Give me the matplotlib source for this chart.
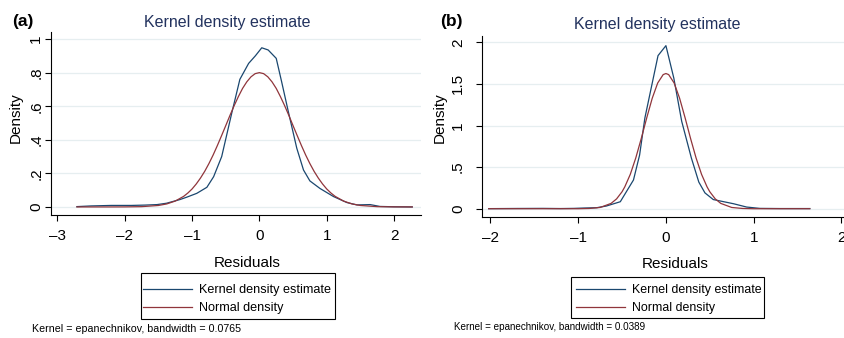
import matplotlib
matplotlib.use("Agg")
import matplotlib.pyplot as plt
from matplotlib.lines import Line2D
from matplotlib.patches import Rectangle

plt.rcParams['font.family'] = ['Liberation Sans', 'DejaVu Sans']

# panel (a) values
a_kde_x = [-2.71, -2.5, -2.2, -1.9, -1.7, -1.52, -1.38, -1.18, -1.08, -0.93, -0.78,
           -0.68, -0.56, -0.41, -0.29, -0.16, -0.06, 0.035, 0.13, 0.25, 0.33, 0.43,
           0.555, 0.655, 0.75, 0.90, 1.10, 1.30, 1.45, 1.55, 1.645, 1.79, 2.0, 2.27]
a_kde_y = [0.002, 0.006, 0.009, 0.009, 0.011, 0.014, 0.022, 0.044, 0.058, 0.081, 0.117,
           0.18, 0.30, 0.56, 0.76, 0.855, 0.90, 0.948, 0.935, 0.885, 0.746, 0.567,
           0.35, 0.22, 0.155, 0.11, 0.062, 0.026, 0.012, 0.013, 0.014, 0.003, 0.001, 0.0]
a_norm_x = [-2.71, -2.25, -2.0, -1.75, -1.5, -1.375, -1.25, -1.125, -1.0625, -1.0,
            -0.9375, -0.875, -0.8125, -0.75, -0.6875, -0.625, -0.5625, -0.5, -0.4375,
            -0.375, -0.3125, -0.25, -0.1875, -0.125, -0.0625, 0.0, 0.0625, 0.125,
            0.1875, 0.25, 0.3125, 0.375, 0.4375, 0.5, 0.5625, 0.625, 0.6875, 0.75,
            0.8125, 0.875, 0.9375, 1.0, 1.0625, 1.125, 1.25, 1.375, 1.5, 1.75, 2.0, 2.27]
a_norm_y = [0.0, 0.0, 0.0003, 0.0017, 0.0087, 0.018, 0.035, 0.063, 0.083, 0.107,
            0.137, 0.172, 0.212, 0.258, 0.309, 0.365, 0.424, 0.484, 0.545,
            0.603, 0.657, 0.706, 0.745, 0.775, 0.794, 0.80, 0.794, 0.775,
            0.745, 0.706, 0.657, 0.603, 0.545, 0.484, 0.424, 0.365, 0.309, 0.258,
            0.212, 0.172, 0.137, 0.107, 0.083, 0.063, 0.035, 0.018, 0.0087, 0.0017, 0.0003, 0.0]

# panel (b)
b_kde_x = [-2.02, -1.7, -1.4, -1.2, -1.05, -0.94, -0.79, -0.68, -0.52, -0.37, -0.30,
           -0.24, -0.18, -0.09, 0.0, 0.09, 0.18, 0.29, 0.375, 0.445, 0.54, 0.77, 0.92,
           1.07, 1.3, 1.64]
b_kde_y = [0.001, 0.003, 0.004, 0.002, 0.004, 0.008, 0.012, 0.032, 0.084, 0.345, 0.645,
           1.09, 1.39, 1.84, 1.96, 1.57, 1.05, 0.61, 0.32, 0.19, 0.11, 0.06, 0.02,
           0.004, 0.002, 0.002]
b_norm_x = [-2.02, -1.5, -1.0, -0.875, -0.75, -0.625, -0.5625, -0.5, -0.46875, -0.40625,
            -0.34375, -0.28125, -0.21875, -0.15625, -0.09375, -0.03125, 0.0, 0.03125,
            0.09375, 0.15625, 0.21875, 0.28125, 0.34375, 0.40625, 0.46875, 0.5, 0.5625,
            0.625, 0.75, 0.875, 1.0, 1.64]
b_norm_y = [0.0, 0.0, 0.0, 0.003, 0.015, 0.064, 0.118, 0.204, 0.263, 0.413,
            0.610, 0.843, 1.092, 1.327, 1.511, 1.612, 1.625, 1.612,
            1.511, 1.327, 1.092, 0.843, 0.610, 0.413, 0.263, 0.204, 0.118,
            0.064, 0.015, 0.003, 0.0, 0.0]

a_yticks = [0, 0.2, 0.4, 0.6, 0.8, 1]
a_ylabels = ['0', '.2', '.4', '.6', '.8', '1']
a_xticks = [-3, -2, -1, 0, 1, 2]
b_yticks = [0, 0.5, 1, 1.5, 2]
b_ylabels = ['0', '.5', '1', '1.5', '2']
b_xticks = [-2, -1, 0, 1, 2]

blue = '#1a476f'
red = '#90353b'
grid_c = '#e6eef0'
title_c = '#22325e'

W, H = 844, 338
fig = plt.figure(figsize=(W / 100, H / 100), dpi=100)


def px_axes(left, top, right, bottom):
    return fig.add_axes([left / W, 1 - bottom / H, (right - left) / W, (bottom - top) / H])


def style(ax, xt, yt, ylabs, ypad):
    for s in ['top', 'right']:
        ax.spines[s].set_visible(False)
    for s in ['left', 'bottom']:
        ax.spines[s].set_linewidth(0.8)
    ax.set_xticks(xt)
    ax.set_xticklabels([str(v).replace('-', '\u2013') for v in xt], fontsize=11)
    ax.set_yticks(yt)
    ax.set_yticklabels(ylabs, fontsize=11, rotation=90, va='center')
    ax.tick_params(axis='x', length=4, width=0.8, pad=6)
    ax.tick_params(axis='y', length=4, width=0.8, pad=ypad)
    ax.grid(axis='y', color=grid_c, linewidth=0.9)
    ax.set_axisbelow(True)


# (a)
ax1 = px_axes(51, 32, 421, 215)
ax1.plot(a_kde_x, a_kde_y, color=blue, lw=0.9)
ax1.plot(a_norm_x, a_norm_y, color=red, lw=0.9)
ax1.set_xlim(-3.095, 2.40)
ax1.set_ylim(-0.048, 1.042)
style(ax1, a_xticks, a_yticks, a_ylabels, 1.5)

# (b)
ax2 = px_axes(481.7, 36, 844, 216.7)
ax2.plot(b_kde_x, b_kde_y, color=blue, lw=0.9)
ax2.plot(b_norm_x, b_norm_y, color=red, lw=0.9)
ax2.set_xlim(-2.10, 2.03)
ax2.set_ylim(-0.096, 2.076)
style(ax2, b_xticks, b_yticks, b_ylabels, 8)


def ftext(x, y, s, **kw):
    fig.text(x / W, 1 - y / H, s, **kw)


ftext(12, 26, '(a)', fontsize=12.5, fontweight='bold', va='baseline')
ftext(440, 26, '(b)', fontsize=12.5, fontweight='bold', va='baseline')
ftext(227, 27, 'Kernel density estimate', fontsize=11.5, color=title_c, ha='center', va='baseline')
ftext(657, 28.5, 'Kernel density estimate', fontsize=11.5, color=title_c, ha='center', va='baseline')
ftext(16, 118, 'Density', fontsize=11, rotation=90, ha='center', va='center')
ftext(439.5, 118, 'Density', fontsize=11, rotation=90, ha='center', va='center')
ftext(247, 267, 'Residuals', fontsize=11, ha='center', va='baseline')
ftext(675, 268, 'Residuals', fontsize=11, ha='center', va='baseline')
ftext(32, 331.5, 'Kernel = epanechnikov, bandwidth = 0.0765', fontsize=7.7, va='baseline')
ftext(454, 330, 'Kernel = epanechnikov, bandwidth = 0.0389', fontsize=7.1, va='baseline')

# legend boxes (Stata pads them more at the top than at the sides)
handles = [Line2D([], [], color=blue, lw=0.9), Line2D([], [], color=red, lw=0.9)]
labels = ['Kernel density estimate', 'Normal density']
legends = [
    # box left, top, right, bottom, entries left, entries top, font size
    (141, 273, 335, 319, 143, 284, 9.1),
    (571, 277, 764, 318, 576, 284, 8.9),
]
for bl, bt, br, bb, lx, ly, fs in legends:
    fig.add_artist(Rectangle((bl / W, 1 - bb / H), (br - bl) / W, (bb - bt) / H,
                             transform=fig.transFigure, facecolor='white',
                             edgecolor='black', linewidth=0.8, zorder=1))
    fpx = fs * 100 / 72
    fig.legend(handles, labels, loc='upper left', bbox_to_anchor=(lx / W, 1 - ly / H),
               borderaxespad=0, borderpad=0, handlelength=49 / fpx, handletextpad=7 / fpx,
               labelspacing=6 / fpx, frameon=False, fontsize=fs)

fig.savefig('out.png', dpi=100)
